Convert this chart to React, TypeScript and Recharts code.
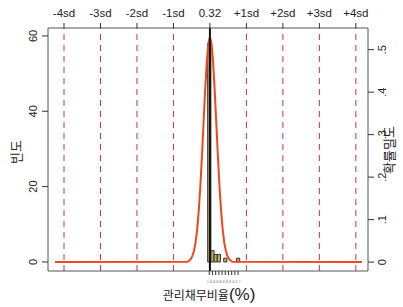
import React from "react";
import {
  ComposedChart,
  Line,
  XAxis,
  YAxis,
  ReferenceLine,
  ReferenceArea,
} from "recharts";

// sd guide lines (mean 0.32, sd about 1.14)
const sdLabels = ["-4sd", "-3sd", "-2sd", "-1sd", "0.32", "+1sd", "+2sd", "+3sd", "+4sd"];
const sdValues = [-4.24, -3.1, -1.96, -0.82, 0.32, 1.46, 2.6, 3.74, 4.88];
const meanValue = 0.32;

const freqTicks = [0, 20, 40, 60];
const densTicks = [0, 0.1, 0.2, 0.3, 0.4, 0.5];
const densTickLabels = ["0", ".1", ".2", ".3", ".4", ".5"];

const bottomTicks = [0.3, 0.4, 0.5, 0.6, 0.7, 0.8, 0.9, 1.0, 1.1, 1.2];
const bottomTickLabels = ["0.3", "0.4", "0.5", "0.6", "0.7", "0.8", "0.9", "1.0", "1.1", "1.2"];

// histogram (bin width 0.1)
const binStart = [0.25, 0.35, 0.45, 0.55, 0.65, 0.75, 0.85, 0.95, 1.05, 1.15];
const binCount = [58, 3, 2, 2, 0, 1, 0, 0, 0, 1];
const binWidth = 0.1;

// density curve
const curveX = [
  -4.52, -0.38, -0.33, -0.28, -0.23, -0.18, -0.13, -0.08, -0.03, 0.02, 0.07, 0.12, 0.17,
  0.22, 0.27, 0.32, 0.37, 0.42, 0.47, 0.52, 0.57, 0.62, 0.67, 0.72, 0.77, 0.82, 0.87,
  0.92, 0.97, 1.02, 5.07,
];
const curveY = [
  0, 0.001, 0.003, 0.007, 0.014, 0.026, 0.045, 0.076, 0.12, 0.178, 0.248, 0.326, 0.403,
  0.469, 0.514, 0.53, 0.514, 0.469, 0.403, 0.326, 0.248, 0.178, 0.12, 0.076, 0.045, 0.026,
  0.014, 0.007, 0.003, 0.001, 0,
];

const curveData = curveX.map((x, i) => ({ x, dens: curveY[i] }));

const sans = "'Liberation Sans', Arial, sans-serif";
const kor = "'Noto Sans CJK KR', sans-serif";
const sdColor = "#c3334b";
const xDomain = [-4.74, 5.26];

const TopTick = (props: any) => {
  const { x, index } = props;
  return (
    <text x={x} y={17} textAnchor="middle" fontSize={11.5} fontFamily={sans} fill="#222">
      {sdLabels[index]}
    </text>
  );
};

const BottomTick = (props: any) => {
  const { x, index } = props;
  return (
    <text x={x} y={283} textAnchor="middle" fontSize={3.5} fontFamily={sans} fill="#999">
      {bottomTickLabels[index]}
    </text>
  );
};

const LeftTick = (props: any) => {
  const { y, payload } = props;
  return (
    <text
      x={33}
      y={y}
      transform={`rotate(-90 33 ${y})`}
      textAnchor="middle"
      dominantBaseline="central"
      fontSize={11}
      fontFamily={sans}
      fill="#222"
    >
      {payload.value}
    </text>
  );
};

const RightTick = (props: any) => {
  const { y, index } = props;
  return (
    <text
      x={382}
      y={y}
      transform={`rotate(-90 382 ${y})`}
      textAnchor="middle"
      dominantBaseline="central"
      fontSize={11}
      fontFamily={sans}
      fill="#222"
    >
      {densTickLabels[index]}
    </text>
  );
};

export default function App() {
  return (
    <div style={{ position: "absolute", left: 0, top: 0, width: 403, height: 307, background: "#fff" }}>
      <ComposedChart
        width={403}
        height={307}
        data={curveData}
        margin={{ top: 0, right: 0, bottom: 0, left: 0 }}
      >
        <XAxis
          xAxisId="b"
          dataKey="x"
          type="number"
          domain={xDomain}
          allowDataOverflow
          ticks={bottomTicks}
          tick={<BottomTick />}
          tickSize={4}
          tickLine={{ stroke: "#333" }}
          axisLine={{ stroke: "#555" }}
          height={36}
          interval={0}
        />
        <XAxis
          xAxisId="t"
          dataKey="x"
          orientation="top"
          type="number"
          domain={xDomain}
          allowDataOverflow
          ticks={sdValues}
          tick={<TopTick />}
          tickSize={5}
          tickLine={{ stroke: "#333" }}
          axisLine={{ stroke: "#555" }}
          height={28}
          interval={0}
        />
        <YAxis
          yAxisId="freq"
          type="number"
          domain={[-2.4, 62.1]}
          allowDataOverflow
          ticks={freqTicks}
          tick={<LeftTick />}
          tickSize={6}
          tickLine={{ stroke: "#333" }}
          axisLine={{ stroke: "#555" }}
          width={48}
          interval={0}
        />
        <YAxis
          yAxisId="dens"
          orientation="right"
          type="number"
          domain={[-0.021, 0.551]}
          allowDataOverflow
          ticks={densTicks}
          tick={<RightTick />}
          tickSize={6}
          tickLine={{ stroke: "#333" }}
          axisLine={{ stroke: "#555" }}
          width={35}
          interval={0}
        />
        {sdValues.map((v, i) =>
          i === 4 ? null : (
            <ReferenceLine
              key={"sd" + i}
              x={v}
              xAxisId="b"
              yAxisId="freq"
              stroke={sdColor}
              strokeWidth={1}
              strokeDasharray="6 5"
            />
          )
        )}
        {binStart.map((s, i) =>
          binCount[i] > 0 ? (
            <ReferenceArea
              key={"bin" + i}
              x1={s}
              x2={s + binWidth}
              y1={0}
              y2={binCount[i]}
              xAxisId="b"
              yAxisId="freq"
              fill="#bcae62"
              fillOpacity={1}
              stroke="#333"
              strokeWidth={1}
            />
          ) : null
        )}
        {/* invisible series so the top sd axis gets a scale */}
        <Line
          xAxisId="t"
          yAxisId="dens"
          dataKey="dens"
          stroke="none"
          dot={false}
          activeDot={false}
          isAnimationActive={false}
        />
        <Line
          xAxisId="b"
          yAxisId="dens"
          dataKey="dens"
          type="linear"
          stroke="#f0461e"
          strokeWidth={2}
          dot={false}
          activeDot={false}
          isAnimationActive={false}
        />
        <ReferenceLine x={meanValue} xAxisId="b" yAxisId="freq" stroke="#111" strokeWidth={2} />
      </ComposedChart>
      <svg
        width={403}
        height={307}
        style={{ position: "absolute", left: 0, top: 0, pointerEvents: "none" }}
      >
        <text
          x={15}
          y={152}
          transform="rotate(-90 15 152)"
          textAnchor="middle"
          dominantBaseline="central"
          fontSize={13}
          fontFamily={kor}
          fill="#222"
        >
          빈도
        </text>
        <text
          x={388}
          y={150}
          transform="rotate(-90 388 150)"
          textAnchor="middle"
          dominantBaseline="central"
          fontSize={13}
          fontFamily={kor}
          fill="#222"
        >
          확률밀도
        </text>
        <text x={209} y={300} textAnchor="middle" fill="#222">
          <tspan fontSize={12} fontFamily={kor}>관리채무비율</tspan>
          <tspan fontSize={17} fontFamily={sans}>(%)</tspan>
        </text>
      </svg>
    </div>
  );
}
